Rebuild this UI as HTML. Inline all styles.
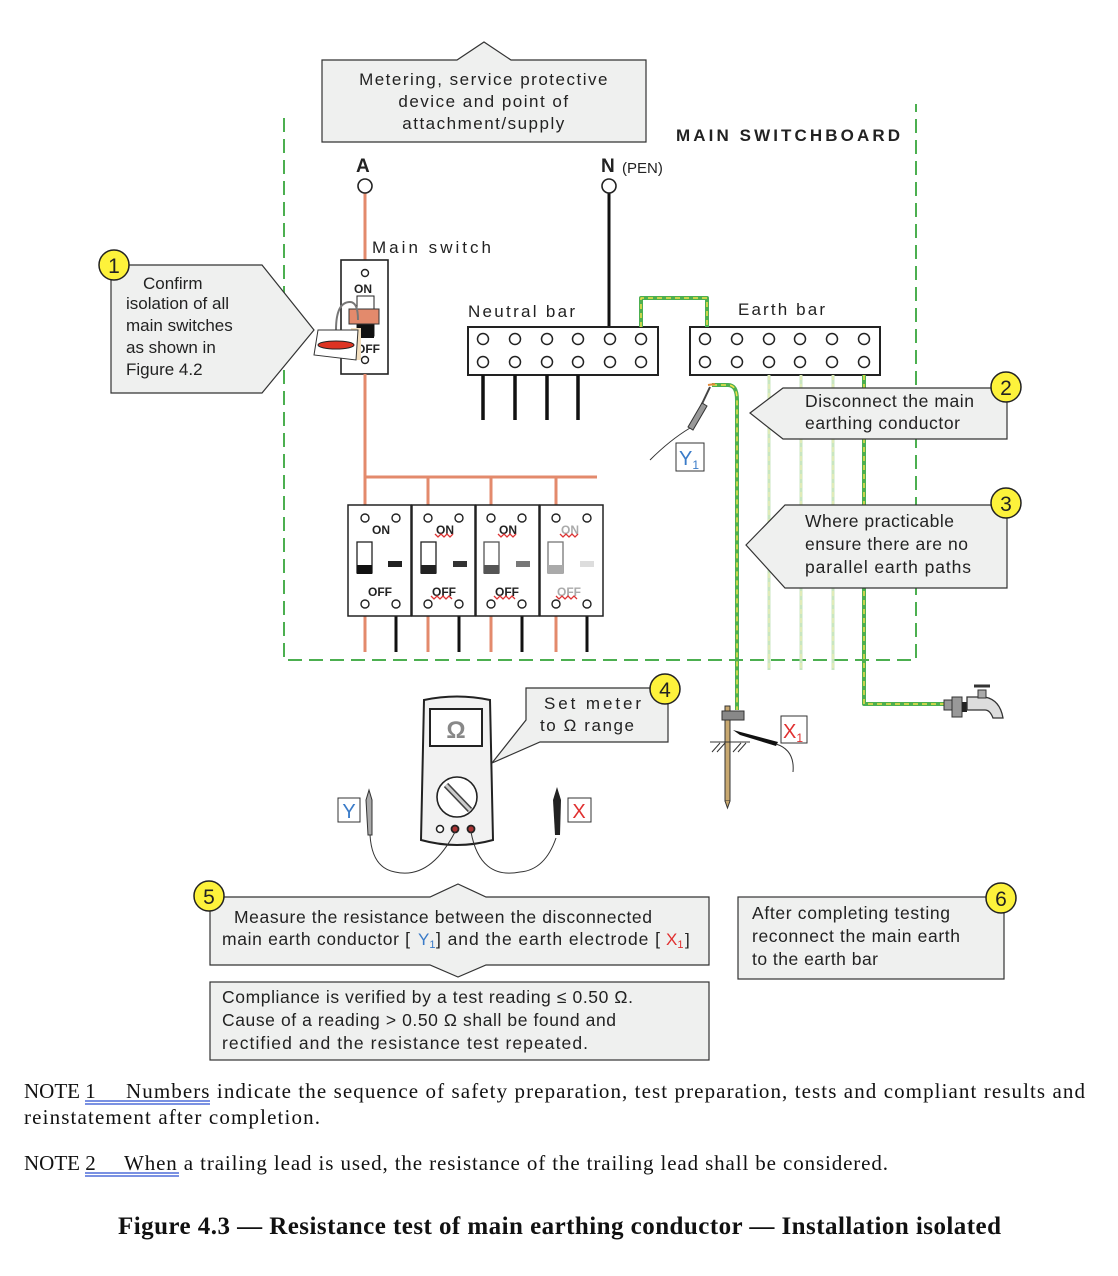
<!DOCTYPE html>
<html><head><meta charset="utf-8"><style>
body{margin:0;background:#fff}
svg{display:block}
.s{font-family:"Liberation Sans",sans-serif;fill:#222}
.r{font-family:"Liberation Serif",serif;fill:#111}
</style></head><body>
<svg width="1118" height="1276" viewBox="0 0 1118 1276" xmlns="http://www.w3.org/2000/svg">
<g stroke="#4caf50" stroke-width="2" fill="none" stroke-dasharray="14,7">
<path d="M284 118 V660 H916 V104"/>
</g>
<path d="M322 60 H457 L484 42 L511 60 H646 V142 H322 Z" fill="#eff0ef" stroke="#333" stroke-width="1.2"/>
<text class="s" font-size="17" letter-spacing="1.5" text-anchor="middle"><tspan x="484" y="85">Metering, service protective</tspan><tspan x="484" y="107">device and point of</tspan><tspan x="484" y="129">attachment/supply</tspan></text>
<text class="s" x="676" y="141" font-size="17" font-weight="bold" textLength="224">MAIN SWITCHBOARD</text>
<text class="s" x="356" y="172" font-size="19" font-weight="bold">A</text>
<text class="s" x="601" y="172" font-size="19" font-weight="bold">N</text>
<text class="s" x="622" y="173" font-size="15">(PEN)</text>
<line x1="365" y1="193" x2="365" y2="260" stroke="#e38a6c" stroke-width="3"/>
<circle cx="365" cy="186" r="7" fill="#fff" stroke="#222" stroke-width="1.6"/>
<line x1="609" y1="193" x2="609" y2="327" stroke="#111" stroke-width="3"/>
<circle cx="609" cy="186" r="7" fill="#fff" stroke="#222" stroke-width="1.6"/>
<text class="s" x="372" y="253" font-size="17" textLength="119">Main switch</text>
<rect x="341" y="260" width="47" height="114" fill="#fff" stroke="#222" stroke-width="1.6"/>
<circle cx="365" cy="273" r="3.5" fill="none" stroke="#222" stroke-width="1.4"/>
<circle cx="365" cy="360" r="3.5" fill="none" stroke="#222" stroke-width="1.4"/>
<text class="s" x="354" y="293" font-size="12" font-weight="bold">ON</text>
<text class="s" x="356" y="353" font-size="12" font-weight="bold">OFF</text>
<rect x="357" y="296" width="17" height="40" fill="#fff" stroke="#222"/>
<rect x="357" y="324" width="17" height="14" fill="#111"/>
<rect x="349" y="309" width="30" height="15" fill="#e38a6c" stroke="#333"/>
<rect x="351" y="328" width="10" height="32" fill="#f3dfbf"/>
<path d="M336 330 Q336 302 350 302 Q358 302 358 320" fill="none" stroke="#777" stroke-width="2"/>
<path d="M318 330 L358 330 L356 360 L314 355 Z" fill="#fff" stroke="#333"/>
<ellipse cx="336" cy="345" rx="18" ry="4" fill="#d32" stroke="#222"/>
<line x1="365" y1="374" x2="365" y2="477" stroke="#e38a6c" stroke-width="3"/>
<line x1="364" y1="477" x2="597" y2="477" stroke="#e38a6c" stroke-width="3"/>
<g stroke="#e38a6c" stroke-width="3">
<line x1="365" y1="477" x2="365" y2="505"/><line x1="428" y1="477" x2="428" y2="505"/><line x1="491" y1="477" x2="491" y2="505"/><line x1="556" y1="477" x2="556" y2="505"/>
<line x1="365" y1="616" x2="365" y2="652"/><line x1="428" y1="616" x2="428" y2="652"/><line x1="491" y1="616" x2="491" y2="652"/><line x1="556" y1="616" x2="556" y2="652"/>
</g>
<g stroke="#111" stroke-width="3">
<line x1="396" y1="616" x2="396" y2="652"/><line x1="459" y1="616" x2="459" y2="652"/><line x1="522" y1="616" x2="522" y2="652"/><line x1="587" y1="616" x2="587" y2="652"/>
</g>
<g stroke="#222" stroke-width="1.5" fill="#fff">
<rect x="348" y="505" width="63" height="111"/><rect x="412" y="505" width="63" height="111"/><rect x="476" y="505" width="63" height="111"/><rect x="540" y="505" width="63" height="111"/>
</g>
<g fill="none" stroke="#222" stroke-width="1.4">
<circle cx="365" cy="518" r="4"/><circle cx="396" cy="518" r="4"/><circle cx="365" cy="604" r="4"/><circle cx="396" cy="604" r="4"/>
<circle cx="428" cy="518" r="4"/><circle cx="459" cy="518" r="4"/><circle cx="428" cy="604" r="4"/><circle cx="459" cy="604" r="4"/>
<circle cx="491" cy="518" r="4"/><circle cx="522" cy="518" r="4"/><circle cx="491" cy="604" r="4"/><circle cx="522" cy="604" r="4"/>
<circle cx="556" cy="518" r="4"/><circle cx="587" cy="518" r="4"/><circle cx="556" cy="604" r="4"/><circle cx="587" cy="604" r="4"/>
</g>
<g class="s" font-size="12" font-weight="bold">
<text x="372" y="534">ON</text><text x="368" y="596">OFF</text>
<text x="436" y="534">ON</text><text x="432" y="596">OFF</text>
<text x="499" y="534">ON</text><text x="495" y="596">OFF</text>
<text x="561" y="534" fill="#aaa">ON</text><text x="557" y="596" fill="#aaa">OFF</text>
</g>
<g fill="none" stroke="#d33" stroke-width="1.3">
<path d="M435 534 l3 3 l3 -3 l3 3 l3 -3 l3 3 l3 -3"/><path d="M431 596 l3 3 l3 -3 l3 3 l3 -3 l3 3 l3 -3 l3 3"/>
<path d="M498 534 l3 3 l3 -3 l3 3 l3 -3 l3 3 l3 -3"/><path d="M494 596 l3 3 l3 -3 l3 3 l3 -3 l3 3 l3 -3 l3 3"/>
<path d="M560 534 l3 3 l3 -3 l3 3 l3 -3 l3 3 l3 -3"/><path d="M556 596 l3 3 l3 -3 l3 3 l3 -3 l3 3 l3 -3 l3 3"/>
</g>
<rect x="357" y="542" width="15" height="31" fill="#fff" stroke="#222" stroke-width="1.3"/><rect x="357" y="565" width="15" height="9" fill="#111"/><rect x="388" y="561" width="14" height="6" fill="#222"/>
<rect x="421" y="542" width="15" height="31" fill="#fff" stroke="#222" stroke-width="1.3"/><rect x="421" y="565" width="15" height="9" fill="#222"/><rect x="453" y="561" width="14" height="6" fill="#333"/>
<rect x="484" y="542" width="15" height="31" fill="#fff" stroke="#555" stroke-width="1.3"/><rect x="484" y="565" width="15" height="9" fill="#555"/><rect x="516" y="561" width="14" height="6" fill="#777"/>
<rect x="548" y="542" width="15" height="31" fill="#fff" stroke="#777" stroke-width="1.3"/><rect x="548" y="565" width="15" height="9" fill="#aaa"/><rect x="580" y="561" width="14" height="6" fill="#ddd"/>
<text class="s" x="468" y="317" font-size="17" textLength="107">Neutral bar</text>
<rect x="468" y="327" width="190" height="48" fill="#fff" stroke="#222" stroke-width="2"/>
<g fill="none" stroke="#222" stroke-width="1.5">
<circle cx="483" cy="339" r="5.5"/><circle cx="515" cy="339" r="5.5"/><circle cx="547" cy="339" r="5.5"/><circle cx="578" cy="339" r="5.5"/><circle cx="610" cy="339" r="5.5"/><circle cx="641" cy="339" r="5.5"/>
<circle cx="483" cy="362" r="5.5"/><circle cx="515" cy="362" r="5.5"/><circle cx="547" cy="362" r="5.5"/><circle cx="578" cy="362" r="5.5"/><circle cx="610" cy="362" r="5.5"/><circle cx="641" cy="362" r="5.5"/>
</g>
<g stroke="#111" stroke-width="3.5"><line x1="483" y1="375" x2="483" y2="420"/><line x1="515" y1="375" x2="515" y2="420"/><line x1="547" y1="375" x2="547" y2="420"/><line x1="578" y1="375" x2="578" y2="420"/></g>
<text class="s" x="738" y="315" font-size="17" textLength="87">Earth bar</text>
<rect x="690" y="327" width="190" height="48" fill="#fff" stroke="#222" stroke-width="2"/>
<g fill="none" stroke="#222" stroke-width="1.5">
<circle cx="705" cy="339" r="5.5"/><circle cx="737" cy="339" r="5.5"/><circle cx="769" cy="339" r="5.5"/><circle cx="800" cy="339" r="5.5"/><circle cx="832" cy="339" r="5.5"/><circle cx="864" cy="339" r="5.5"/>
<circle cx="705" cy="362" r="5.5"/><circle cx="737" cy="362" r="5.5"/><circle cx="769" cy="362" r="5.5"/><circle cx="800" cy="362" r="5.5"/><circle cx="832" cy="362" r="5.5"/><circle cx="864" cy="362" r="5.5"/>
</g>
<g fill="none" stroke-linejoin="round">
<path d="M641 327 V298 H707 V327" stroke="#4caf50" stroke-width="4"/>
<path d="M641 327 V298 H707 V327" stroke="#f2e14a" stroke-width="1.5" stroke-dasharray="5,4"/>
<g stroke="#c8e6c0" stroke-width="3"><line x1="769" y1="375" x2="769" y2="670"/><line x1="801" y1="375" x2="801" y2="670"/><line x1="833" y1="375" x2="833" y2="670"/></g>
<g stroke="#f7f0b0" stroke-width="1" stroke-dasharray="5,4"><line x1="769" y1="375" x2="769" y2="670"/><line x1="801" y1="375" x2="801" y2="670"/><line x1="833" y1="375" x2="833" y2="670"/></g>
<path d="M864 375 V704 H945" stroke="#4caf50" stroke-width="4"/>
<path d="M864 375 V704 H945" stroke="#f2e14a" stroke-width="1.5" stroke-dasharray="5,4"/>
<path d="M712 385 H728 Q737 385 737 400 V710" stroke="#4caf50" stroke-width="4"/>
<path d="M712 385 H728 Q737 385 737 400 V710" stroke="#f2e14a" stroke-width="1.5" stroke-dasharray="5,4"/>
</g>
<line x1="708" y1="385" x2="715" y2="384" stroke="#e38a3c" stroke-width="2"/>
<path d="M710 387 L700 408" stroke="#444" stroke-width="2"/>
<path d="M702 403 L688 427 L693 430 L707 406 Z" fill="#999" stroke="#333"/>
<path d="M690 428 Q670 440 650 460" fill="none" stroke="#333"/>
<rect x="676" y="443" width="28" height="28" fill="#fff" stroke="#333"/>
<text x="679" y="465" font-family="Liberation Sans,sans-serif" font-size="20" fill="#3a7bc8">Y<tspan font-size="12" dy="4">1</tspan></text>
<path d="M750 413 L783 388 H1007 V439 H783 Z" fill="#eff0ef" stroke="#333" stroke-width="1.2"/>
<text class="s" font-size="17.5"><tspan x="805" y="407" textLength="169">Disconnect the main</tspan><tspan x="805" y="429" textLength="155">earthing  conductor</tspan></text>
<path d="M746 545 L785 505 H1007 V588 H785 Z" fill="#eff0ef" stroke="#333" stroke-width="1.2"/>
<text class="s" font-size="17.5"><tspan x="805" y="527" textLength="149">Where practicable</tspan><tspan x="805" y="550" textLength="163">ensure there are no</tspan><tspan x="805" y="573" textLength="166">parallel earth paths</tspan></text>
<rect x="944" y="700" width="8" height="10" fill="#999" stroke="#333"/>
<rect x="952" y="697" width="10" height="20" fill="#999" stroke="#333"/>
<rect x="962" y="702" width="5" height="10" fill="#222"/>
<path d="M967 697 H985 Q1000 700 1003 718 H993 Q990 710 985 710 H967 Z" fill="#ddd" stroke="#333" stroke-width="1.3"/>
<rect x="978" y="690" width="8" height="8" fill="#aaa" stroke="#333"/>
<line x1="974" y1="686" x2="990" y2="686" stroke="#333" stroke-width="3"/>
<rect x="725" y="706" width="5" height="95" fill="#c8a870" stroke="#333" stroke-width="1"/>
<path d="M725 801 L727.5 808 L730 801" fill="#c8a870" stroke="#333"/>
<rect x="722" y="711" width="22" height="9" fill="#888" stroke="#333"/>
<g stroke="#333" stroke-width="1"><line x1="710" y1="742" x2="750" y2="742"/><line x1="712" y1="752" x2="720" y2="743"/><line x1="717" y1="752" x2="725" y2="743"/><line x1="733" y1="752" x2="741" y2="743"/><line x1="738" y1="752" x2="746" y2="743"/></g>
<path d="M733 730 L778 742 L776 746 L740 735 Z" fill="#111"/>
<path d="M776 744 Q795 750 793 772" fill="none" stroke="#333"/>
<rect x="781" y="716" width="26" height="27" fill="#fff" stroke="#333"/>
<text x="783" y="738" font-family="Liberation Sans,sans-serif" font-size="20" fill="#e03030">X<tspan font-size="12" dy="4">1</tspan></text>
<path d="M111 265 H262 L314 330 L262 393 H111 Z" fill="#eff0ef" stroke="#333" stroke-width="1.2"/>
<text class="s" font-size="17"><tspan x="143" y="289">Confirm</tspan><tspan x="126" y="309">isolation of all</tspan><tspan x="126" y="331">main switches</tspan><tspan x="126" y="353">as shown in</tspan><tspan x="126" y="375">Figure 4.2</tspan></text>
<path d="M424 700 Q457 693 490 700 L493 840 Q457 850 421 840 Z" fill="#f2f2f2" stroke="#222" stroke-width="2"/>
<rect x="430" y="709" width="52" height="37" fill="#fff" stroke="#222" stroke-width="2"/>
<text x="456" y="738" text-anchor="middle" font-family="Liberation Sans,sans-serif" font-size="24" font-weight="bold" fill="#888">Ω</text>
<circle cx="457" cy="797" r="20" fill="#fff" stroke="#222" stroke-width="1.6"/>
<line x1="446" y1="785" x2="470" y2="810" stroke="#444" stroke-width="6"/>
<line x1="446" y1="785" x2="470" y2="810" stroke="#ccc" stroke-width="3"/>
<circle cx="440" cy="829" r="3.5" fill="#fff" stroke="#222" stroke-width="1.5"/>
<circle cx="455" cy="829" r="3.5" fill="#a33" stroke="#222" stroke-width="1.8"/>
<circle cx="471" cy="829" r="3.5" fill="#a33" stroke="#222" stroke-width="1.8"/>
<g fill="none" stroke="#333" stroke-width="1">
<path d="M370 835 Q372 868 395 872 M395 872 Q430 880 455 832"/>
<path d="M471 832 Q480 880 520 872 Q545 870 556 838"/>
</g>
<path d="M366 800 L369 790 L372 800 L372 835 L368 835 Z" fill="#aaa" stroke="#333"/>
<path d="M553 800 L557 787 L561 800 L560 835 L555 835 Z" fill="#222"/>
<rect x="338" y="798" width="22" height="24" fill="#fff" stroke="#333"/>
<text x="349" y="818" text-anchor="middle" font-family="Liberation Sans,sans-serif" font-size="20" fill="#3a7bc8">Y</text>
<rect x="568" y="798" width="23" height="24" fill="#fff" stroke="#333"/>
<text x="579" y="818" text-anchor="middle" font-family="Liberation Sans,sans-serif" font-size="20" fill="#e03030">X</text>
<path d="M526 688 H668 V742 H540 L492 763 L526 720 Z" fill="#eff0ef" stroke="#333" stroke-width="1.2"/>
<text class="s" font-size="17"><tspan x="544" y="709" textLength="97">Set meter</tspan><tspan x="540" y="731" textLength="94">to Ω range</tspan></text>
<path d="M210 897 H430 L458 884 L486 897 H709 V965 H486 L458 977 L430 965 H210 Z" fill="#eff0ef" stroke="#333" stroke-width="1.2"/>
<text class="s" font-size="17.5" x="234" y="923" textLength="418">Measure the resistance between the disconnected</text>
<text class="s" font-size="17.5" x="222" y="945" textLength="188">main earth conductor [</text>
<text x="418" y="945" font-family="Liberation Sans,sans-serif" font-size="17" fill="#3a7bc8">Y<tspan font-size="11" dy="3">1</tspan></text>
<text class="s" font-size="17.5" x="436" y="945" textLength="224">]  and  the  earth  electrode  [</text>
<text x="666" y="945" font-family="Liberation Sans,sans-serif" font-size="17" fill="#e03030">X<tspan font-size="11" dy="3">1</tspan></text>
<text class="s" font-size="17" x="685" y="945">]</text>
<rect x="210" y="982" width="499" height="78" fill="#eff0ef" stroke="#333" stroke-width="1.2"/>
<text class="s" font-size="17.5"><tspan x="222" y="1003" textLength="411">Compliance is verified by a test reading ≤ 0.50 Ω.</tspan><tspan x="222" y="1026" textLength="394">Cause of a reading &gt; 0.50 Ω shall be found and</tspan><tspan x="222" y="1049" textLength="366">rectified and the resistance test repeated.</tspan></text>
<rect x="738" y="897" width="266" height="82" fill="#eff0ef" stroke="#333" stroke-width="1.2"/>
<text class="s" font-size="17.5"><tspan x="752" y="919" textLength="198">After completing testing</tspan><tspan x="752" y="942" textLength="208">reconnect the main earth</tspan><tspan x="752" y="965" textLength="126">to the earth bar</tspan></text>
<g fill="#fdf23b" stroke="#222" stroke-width="1.5">
<circle cx="114" cy="265" r="15"/><circle cx="1006" cy="387" r="15"/><circle cx="1006" cy="503" r="15"/><circle cx="665" cy="689" r="15"/><circle cx="209" cy="896" r="15"/><circle cx="1001" cy="898" r="15"/>
</g>
<g class="s" font-size="21" text-anchor="middle">
<text x="114" y="273">1</text><text x="1006" y="395">2</text><text x="1006" y="511">3</text><text x="665" y="697">4</text><text x="209" y="904">5</text><text x="1001" y="906">6</text>
</g>
<text class="r" font-size="21" x="24" y="1098">NOTE 1</text>
<text class="r" font-size="21" x="126" y="1098" textLength="959">Numbers indicate the sequence of safety preparation, test preparation, tests and compliant results and</text>
<text class="r" font-size="21" x="24" y="1124" textLength="296">reinstatement after completion.</text>
<text class="r" font-size="21" x="24" y="1170">NOTE 2</text>
<text class="r" font-size="21" x="124" y="1170" textLength="764">When a trailing lead is used, the resistance of the trailing lead shall be considered.</text>
<g stroke="#2a4fd0" stroke-width="1.3"><line x1="85" y1="1101" x2="210" y2="1101"/><line x1="85" y1="1104" x2="210" y2="1104"/><line x1="85" y1="1173" x2="179" y2="1173"/><line x1="85" y1="1176" x2="179" y2="1176"/></g>
<text class="r" x="118" y="1234" font-size="25" font-weight="bold" textLength="883">Figure 4.3 — Resistance test of main earthing conductor — Installation isolated</text>
</svg>
</body></html>
